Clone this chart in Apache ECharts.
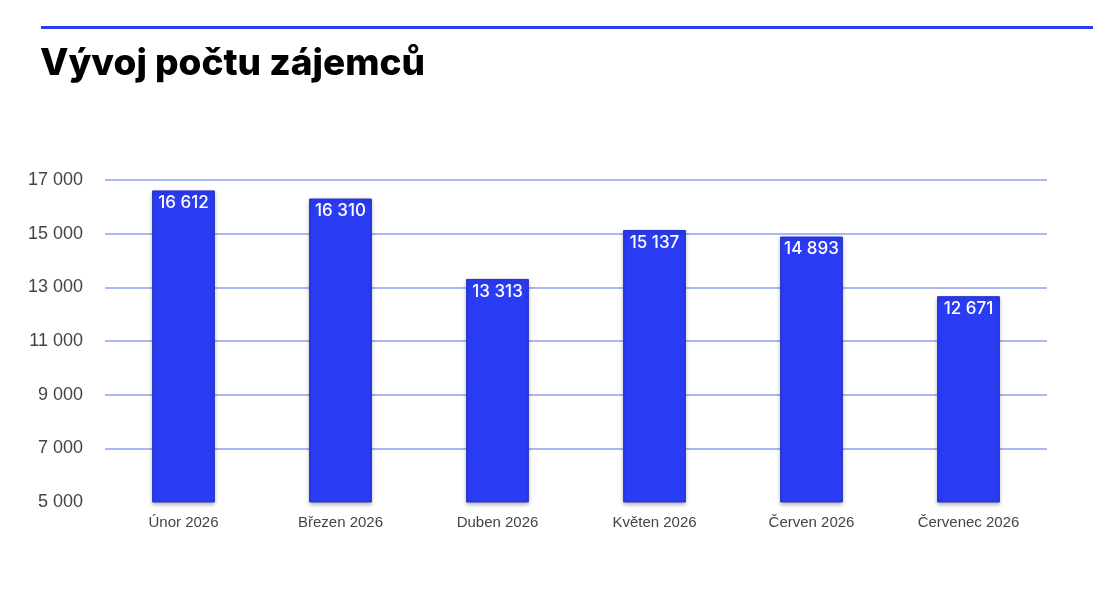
<!DOCTYPE html>
<html>
<head>
<meta charset="utf-8">
<script src="https://cdn.jsdelivr.net/npm/echarts@6/dist/echarts.min.js"></script>
<style>
  html, body { margin: 0; padding: 0; background: #ffffff; }
  #chart { width: 1102px; height: 602px; }
</style>
</head>
<body>
<div id="chart"></div>
<script>
const months = ["Únor 2026", "Březen 2026", "Duben 2026", "Květen 2026", "Červen 2026", "Červenec 2026"];
const interested = [16612, 16310, 13313, 15137, 14893, 12671];

const Y_MIN = 5000;
const Y_MAX = 17000;
const Y_STEP = 2000;

function formatNumber(value) {
    return String(value).replace(/\B(?=(\d{3})+(?!\d))/g, " ");
}

const chart = echarts.init(document.getElementById("chart"));

chart.setOption({
    animation: false,
    title: {
        text: "Vývoj počtu zájemců",
        left: 35,
        top: 40,
        textStyle: {
            fontFamily: "Inter",
            fontWeight: 800,
            fontSize: 37,
            color: "#000000"
        }
    },
    graphic: [
        {
            type: "rect",
            shape: { x: 41, y: 26, width: 1052, height: 3 },
            style: { fill: "#2b3cf5" }
        }
    ],
    grid: {
        left: 105,
        right: 55,
        top: 180,
        bottom: 100
    },
    xAxis: {
        type: "category",
        data: months,
        axisLine: { show: false },
        axisTick: { show: false },
        axisLabel: {
            color: "#444444",
            fontFamily: "Liberation Sans",
            fontSize: 15,
            margin: 13
        }
    },
    yAxis: {
        type: "value",
        min: Y_MIN,
        max: Y_MAX,
        interval: Y_STEP,
        axisLine: { show: false },
        axisTick: { show: false },
        axisLabel: {
            color: "#444444",
            fontFamily: "Liberation Sans",
            fontSize: 18,
            margin: 22,
            formatter: value => formatNumber(value)
        },
        splitLine: {
            lineStyle: {
                color: ["rgba(0,0,0,0)", "#aab7f0", "#aab7f0", "#aab7f0", "#aab7f0", "#aab7f0", "#aab7f0"],
                width: 2
            }
        }
    },
    series: [
        {
            type: "bar",
            data: interested,
            barWidth: "40%",
            itemStyle: {
                color: "#2b3cf5",
                borderColor: "#2433c4",
                borderWidth: 1,
                shadowColor: "rgba(0,0,0,0.3)",
                shadowBlur: 4,
                shadowOffsetY: 2
            },
            label: {
                show: true,
                position: "insideTop",
                distance: 4,
                color: "#ffffff",
                fontFamily: "Inter",
                fontWeight: 500,
                fontSize: 17,
                formatter: params => formatNumber(params.value)
            }
        }
    ]
});
</script>
</body>
</html>
